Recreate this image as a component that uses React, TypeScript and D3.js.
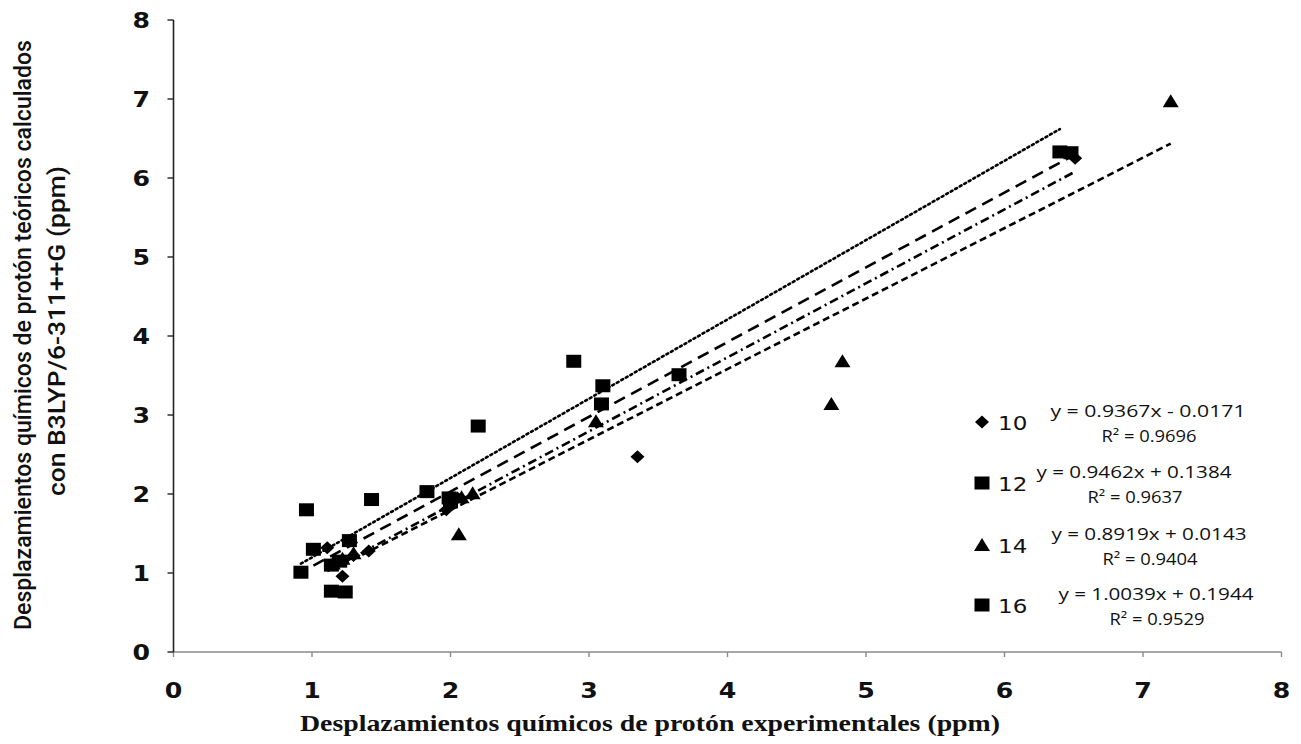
import React, { useEffect, useRef } from "react";
import * as d3 from "d3";

// Chemical shifts (ppm): experimental vs. calculated, per compound
const s10x = [1.11, 1.22, 1.41, 1.18, 1.30, 1.97, 2.05, 3.35, 6.51];
const s10y = [1.32, 0.96, 1.28, 1.15, 1.22, 1.80, 1.95, 2.47, 6.25];

const s12x = [1.01, 1.14, 1.24, 1.20, 1.99, 2.00, 3.09, 6.48];
const s12y = [1.30, 0.77, 0.76, 1.15, 1.95, 1.90, 3.14, 6.32];

const s14x = [1.15, 1.22, 1.30, 2.06, 2.08, 2.16, 3.05, 4.75, 4.83, 7.20];
const s14y = [1.12, 1.18, 1.25, 1.49, 1.96, 2.01, 2.92, 3.14, 3.68, 6.97];

const s16x = [0.92, 0.96, 1.27, 1.14, 1.43, 1.83, 2.20, 2.89, 3.10, 3.65, 6.40];
const s16y = [1.01, 1.80, 1.41, 1.10, 1.93, 2.03, 2.86, 3.68, 3.37, 3.51, 6.33];

const seriesNames = ["10", "12", "14", "16"];
const slopes = [0.9367, 0.9462, 0.8919, 1.0039];
const intercepts = [-0.0171, 0.1384, 0.0143, 0.1944];
const equations = [
  "y = 0.9367x - 0.0171",
  "y = 0.9462x + 0.1384",
  "y = 0.8919x + 0.0143",
  "y = 1.0039x + 0.1944",
];
const r2Labels = ["R² = 0.9696", "R² = 0.9637", "R² = 0.9404", "R² = 0.9529"];
const ticks = [0, 1, 2, 3, 4, 5, 6, 7, 8];

const W = 1301;
const H = 744;

export default function App() {
  const ref = useRef<SVGSVGElement>(null);

  useEffect(() => {
    const svg = d3.select(ref.current);
    svg.selectAll("*").remove();

    const x = d3.scaleLinear().domain([0, 8]).range([173.5, 1281.5]);
    const y = d3.scaleLinear().domain([0, 8]).range([652, 20]);

    const xsAll = [s10x, s12x, s14x, s16x];
    const ysAll = [s10y, s12y, s14y, s16y];
    const shapes = ["diamond", "square", "triangle", "square"];
    const dashes = ["9,4,2,4", "12,7", "7,4", "2,3.2"];

    const g = svg.append("g");

    // text drawn slightly widened horizontally
    const wideText = (
      tx: number, ty: number, str: string, size: number,
      anchor: string, sx: number, family: string, weight = "normal"
    ) =>
      g.append("text")
        .attr("transform", `translate(${tx},${ty}) scale(${sx},1)`)
        .attr("text-anchor", anchor)
        .attr("font-family", family)
        .attr("font-weight", weight)
        .attr("font-size", size)
        .attr("fill", "#111")
        .text(str);

    // axes
    g.append("line")
      .attr("x1", x(0)).attr("x2", x(8))
      .attr("y1", y(0)).attr("y2", y(0))
      .attr("stroke", "#8a8a8a").attr("stroke-width", 1.6);
    g.append("line")
      .attr("x1", x(0)).attr("x2", x(0))
      .attr("y1", y(0)).attr("y2", y(8))
      .attr("stroke", "#222").attr("stroke-width", 1.6);

    ticks.forEach((t) => {
      g.append("line")
        .attr("x1", x(t)).attr("x2", x(t))
        .attr("y1", y(0)).attr("y2", y(0) + 5)
        .attr("stroke", "#8a8a8a").attr("stroke-width", 1.4);
      wideText(x(t), y(0) + 46, String(t), 21, "middle", 1.2, "DejaVu Sans", "bold");
      g.append("line")
        .attr("x1", x(0) - 6).attr("x2", x(0))
        .attr("y1", y(t)).attr("y2", y(t))
        .attr("stroke", "#222").attr("stroke-width", 1.4);
      wideText(150, y(t) + 8, String(t), 21, "end", 1.2, "DejaVu Sans", "bold");
    });

    // trend lines
    xsAll.forEach((xs, i) => {
      const x0 = d3.min(xs) as number;
      const x1 = d3.max(xs) as number;
      g.append("line")
        .attr("x1", x(x0)).attr("y1", y(slopes[i] * x0 + intercepts[i]))
        .attr("x2", x(x1)).attr("y2", y(slopes[i] * x1 + intercepts[i]))
        .attr("stroke", "#000")
        .attr("stroke-width", 2.6)
        .attr("stroke-dasharray", dashes[i])
        .attr("stroke-linecap", i === 3 ? "round" : "butt");
    });

    const marker = (shape: string, cx: number, cy: number) => {
      if (shape === "square") {
        return g.append("rect")
          .attr("x", cx - 7.5).attr("y", cy - 6.5)
          .attr("width", 15).attr("height", 13)
          .attr("fill", "#000");
      }
      if (shape === "diamond") {
        return g.append("path")
          .attr("d", `M${cx - 7},${cy}L${cx},${cy - 6.5}L${cx + 7},${cy}L${cx},${cy + 6.5}Z`)
          .attr("fill", "#000");
      }
      return g.append("path")
        .attr("d", `M${cx - 8},${cy + 6}L${cx},${cy - 7}L${cx + 8},${cy + 6}Z`)
        .attr("fill", "#000");
    };

    // points
    xsAll.forEach((xs, i) => {
      xs.forEach((v, j) => {
        marker(shapes[i], x(v), y(ysAll[i][j]));
      });
    });

    // legend
    const legendY = [422, 483, 545, 605];
    const eqX = [1148, 1134, 1149, 1156];
    seriesNames.forEach((name, i) => {
      marker(shapes[i], 982, legendY[i]);
      wideText(998, legendY[i] + 8, name, 20, "start", 1.15, "DejaVu Sans");
      g.append("text")
        .attr("x", eqX[i]).attr("y", legendY[i] - 5)
        .attr("text-anchor", "middle")
        .attr("font-family", "Open Sans")
        .attr("font-size", 16)
        .attr("fill", "#111")
        .attr("textLength", 195)
        .attr("lengthAdjust", "spacingAndGlyphs")
        .text(equations[i]);
      g.append("text")
        .attr("x", eqX[i] + 1).attr("y", legendY[i] + 20)
        .attr("text-anchor", "middle")
        .attr("font-family", "Open Sans")
        .attr("font-size", 16)
        .attr("fill", "#111")
        .attr("textLength", 95)
        .attr("lengthAdjust", "spacingAndGlyphs")
        .text(r2Labels[i]);
    });

    // axis titles
    g.append("text")
      .attr("transform", `translate(31,335) rotate(-90)`)
      .attr("text-anchor", "middle")
      .attr("font-family", "Roboto")
      .attr("font-weight", 500)
      .attr("font-size", 24)
      .attr("fill", "#111")
      .attr("textLength", 590)
      .attr("lengthAdjust", "spacingAndGlyphs")
      .text("Desplazamientos químicos de protón teóricos calculados");
    g.append("text")
      .attr("transform", `translate(65,331) rotate(-90)`)
      .attr("text-anchor", "middle")
      .attr("font-family", "Roboto")
      .attr("font-weight", 500)
      .attr("font-size", 24)
      .attr("fill", "#111")
      .attr("textLength", 330)
      .attr("lengthAdjust", "spacingAndGlyphs")
      .text("con B3LYP/6-311++G (ppm)");
    g.append("text")
      .attr("x", 650).attr("y", 731)
      .attr("text-anchor", "middle")
      .attr("font-family", "Liberation Serif")
      .attr("font-weight", "bold")
      .attr("font-size", 23)
      .attr("fill", "#111")
      .attr("textLength", 700)
      .attr("lengthAdjust", "spacingAndGlyphs")
      .text("Desplazamientos químicos de protón experimentales (ppm)");
  }, []);

  return (
    <svg
      ref={ref}
      width={W}
      height={H}
      style={{ position: "absolute", left: 0, top: 0, background: "#fff" }}
    />
  );
}
